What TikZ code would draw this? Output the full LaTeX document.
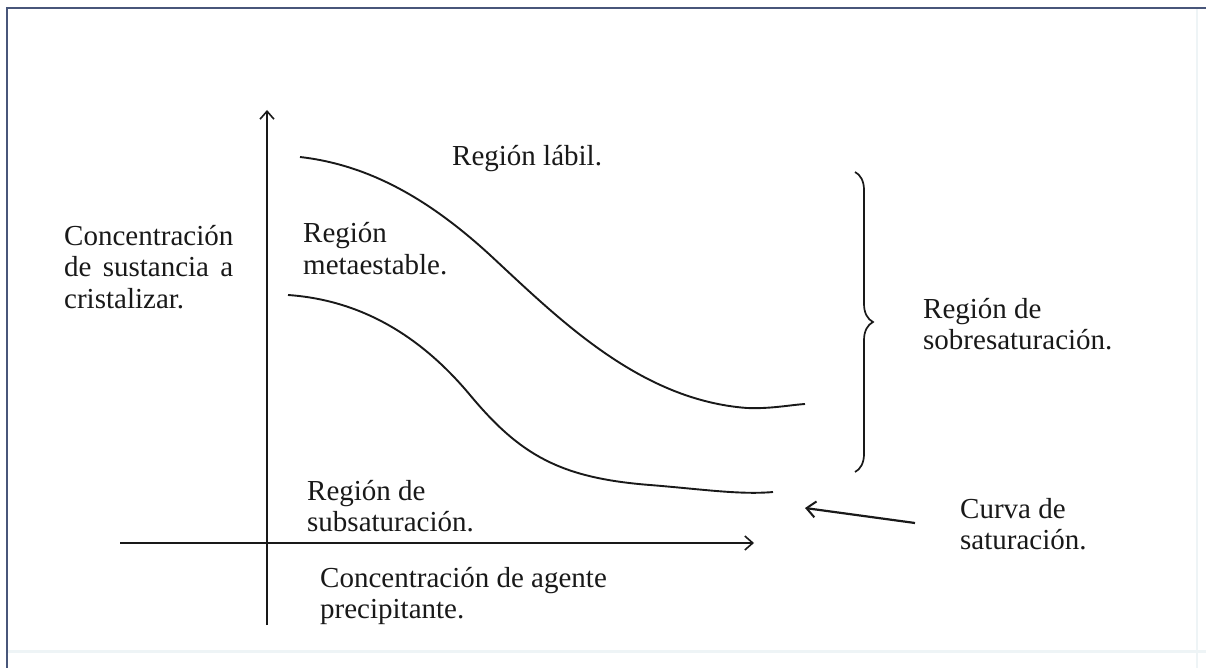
\documentclass[tikz,border=0pt]{standalone}
\usepackage{fontspec}
\setmainfont{Liberation Serif}
\usetikzlibrary{arrows.meta,decorations.pathreplacing}
\definecolor{framecol}{RGB}{72,86,122}
\definecolor{faintcol}{RGB}{238,244,246}
\definecolor{ink}{RGB}{25,25,25}
\tikzset{
  lbl/.style={anchor=base west,inner sep=0pt,text=ink,font=\fontsize{29}{31.5}\selectfont},
  axis/.style={ink,line width=1.8pt,-{Straight Barb[length=8pt,width=14pt,line width=1.6pt]}},
  curve/.style={ink,line width=1.9pt},
  pointer/.style={ink,line width=2.2pt,-{Straight Barb[length=9pt,width=16pt,line width=2pt]}},
  bracestyle/.style={ink,line width=1.7pt,decorate,decoration={brace,amplitude=18pt}}
}
\begin{document}
\begin{tikzpicture}[x=1pt,y=-1pt]
\useasboundingbox (0,0) rectangle (1206,668);
\fill[white] (0,0) rectangle (1206,668);
% frame
\draw[faintcol,line width=2pt] (1197,8) -- (1197,668);
\draw[faintcol,line width=3pt] (7,651) -- (1206,651);
\draw[framecol,line width=2.5pt] (7,668) -- (7,8) -- (1206,8);

% coordinates
\coordinate (yb) at (267,625);
\coordinate (yt) at (267,110);
\coordinate (xl) at (120,543);
\coordinate (xr) at (754,543);
\coordinate (bt) at (855,172);
\coordinate (bb) at (855,472);
\coordinate (at) at (915,523);
\coordinate (ah) at (805,508);

% axes
\draw[axis] (yb) -- (yt);
\draw[axis] (xl) -- (xr);

% curves
\draw[curve] (300,157) .. controls (370,165) and (430,200) .. (490,255)
  .. controls (560,320) and (640,400) .. (747,408)
  .. controls (770,409) and (790,405) .. (805,404);
\draw[curve] (288,295) .. controls (360,300) and (420,335) .. (470,395)
  .. controls (520,455) and (560,478) .. (650,485)
  .. controls (700,489) and (740,495) .. (773,492);

% brace
\draw[bracestyle] (bt) -- (bb);

% pointer arrow
\draw[pointer] (at) -- (ah);

% labels
\node[lbl] (ylab) at (64,245) {\parbox[t]{169pt}{Concentración\\de\hfill sustancia\hfill a\\cristalizar.}};
\node[lbl] (labil) at (452,166) {Región lábil.};
\node[lbl] (meta) at (303,243) {\parbox[t]{200pt}{Región\\metaestable.}};
\node[lbl] (sub) at (307,500) {\parbox[t]{200pt}{Región de\\subsaturación.}};
\node[lbl] (sobre) at (923,318) {\parbox[t]{220pt}{Región de\\sobresaturación.}};
\node[lbl] (curva) at (960,518) {\parbox[t]{200pt}{Curva de\\saturación.}};
\node[lbl] (xlab) at (320,587) {\parbox[t]{340pt}{Concentración de agente\\precipitante.}};
\end{tikzpicture}
\end{document}
